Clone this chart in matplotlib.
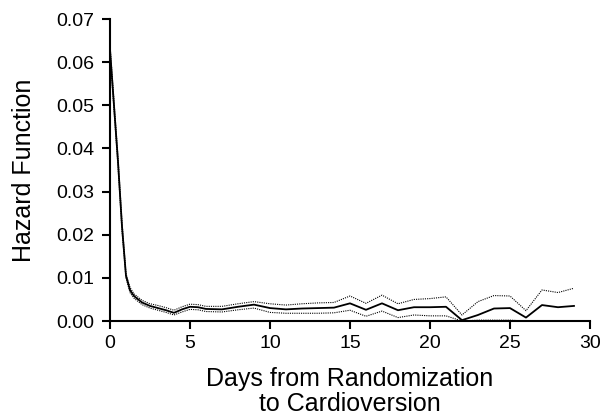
import matplotlib
matplotlib.use('Agg')
import matplotlib.pyplot as plt

plt.rcParams['font.family'] = ['Liberation Sans', 'DejaVu Sans']
plt.rcParams['xtick.labelsize'] = 14
plt.rcParams['ytick.labelsize'] = 14

# days from randomization
days = [0, 0.25, 0.5, 0.75, 1, 1.25, 1.5, 2, 2.5, 3, 3.5, 4, 4.5, 5, 5.5, 6, 7, 8, 9,
        10, 11, 12, 13, 14, 15, 16, 17, 18, 19, 20, 21, 22, 23, 24, 25, 26, 27, 28, 29]
# hazard estimate
hazard = [0.063, 0.050, 0.037, 0.022, 0.0105, 0.0072, 0.0058, 0.0043, 0.0035, 0.0030,
          0.0025, 0.0019, 0.0027, 0.0033, 0.0032, 0.0028, 0.0027, 0.0033, 0.0038,
          0.0030, 0.0027, 0.0029, 0.0030, 0.0031, 0.0041, 0.0026, 0.0041, 0.0025,
          0.0032, 0.0032, 0.0033, 0.0002, 0.0014, 0.0029, 0.0030, 0.0008, 0.0037,
          0.0032, 0.0035]
# confidence limits
upper = [0.064, 0.051, 0.038, 0.023, 0.011, 0.0078, 0.0063, 0.0048, 0.0040, 0.0036,
         0.0031, 0.0025, 0.0033, 0.0039, 0.0038, 0.0034, 0.0034, 0.0040, 0.0045,
         0.0040, 0.0037, 0.0040, 0.0042, 0.0043, 0.0058, 0.0041, 0.0060, 0.0040,
         0.0050, 0.0052, 0.0056, 0.0014, 0.0045, 0.0059, 0.0058, 0.0024, 0.0072,
         0.0066, 0.0076]
lower = [0.062, 0.049, 0.036, 0.021, 0.0100, 0.0066, 0.0053, 0.0038, 0.0030, 0.0025,
         0.0020, 0.0014, 0.0021, 0.0027, 0.0026, 0.0022, 0.0021, 0.0026, 0.0030,
         0.0020, 0.0018, 0.0018, 0.0018, 0.0019, 0.0025, 0.0011, 0.0023, 0.0008,
         0.0014, 0.0012, 0.0012, 0.0000, 0.0002, 0.0002, 0.0002, 0.0000, 0.0000,
         0.0000, 0.0000]

fig = plt.figure(figsize=(6, 4.18), dpi=100)
ax = fig.add_axes([0.1833, 0.232, 0.80, 0.7225])

ax.plot(days, upper, color='black', lw=0.8, ls=(0, (1, 1)))
ax.plot(days, lower, color='black', lw=0.8, ls=(0, (1, 1)))
ax.plot(days, hazard, color='black', lw=1.3)

ax.set_xlim(0, 30)
ax.set_ylim(0, 0.07)
ax.set_xticks([0, 5, 10, 15, 20, 25, 30])
ax.set_yticks([0, 0.01, 0.02, 0.03, 0.04, 0.05, 0.06, 0.07])
ax.yaxis.set_major_formatter(matplotlib.ticker.FormatStrFormatter('%.2f'))

for s in ['top', 'right']:
    ax.spines[s].set_visible(False)
for s in ['left', 'bottom']:
    ax.spines[s].set_linewidth(1.5)
ax.tick_params(axis='y', direction='out', length=6, width=1.5, labelsize=14, pad=5)
ax.tick_params(axis='x', direction='out', length=6, width=1.5, labelsize=14, pad=4)

ax.set_ylabel('Hazard Function', fontsize=18, labelpad=15)
ax.set_xlabel('Days from Randomization\nto Cardioversion', fontsize=18,
              labelpad=11, linespacing=1.05)

fig.savefig('out.png', dpi=100)
